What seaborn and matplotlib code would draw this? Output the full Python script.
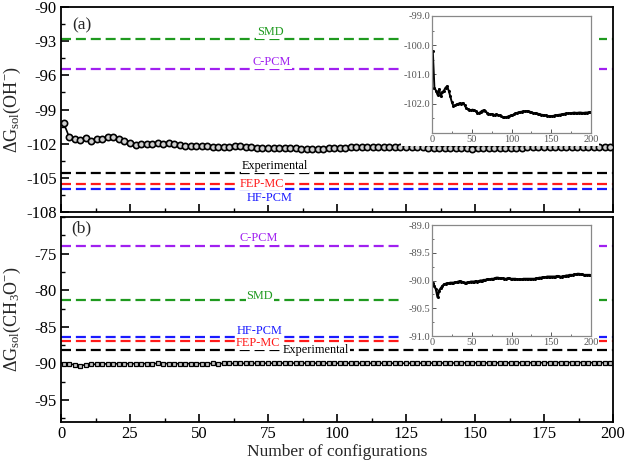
import numpy as np
import pandas as pd
import matplotlib
matplotlib.use('Agg')
import matplotlib.pyplot as plt
from matplotlib.patches import Rectangle
from matplotlib.ticker import MultipleLocator, FormatStrFormatter
import seaborn as sns

# ---- data ----
configs = list(range(1, 200, 2))

dg_oh = [-100.20, -101.45, -101.55, -101.70, -101.50, -101.75, -101.60, -101.55, -101.45, -101.40,
         -101.55, -101.75, -101.95, -102.08, -102.05, -102.02, -102.00, -101.98, -102.00, -101.97,
         -102.05, -102.15, -102.18, -102.20, -102.22, -102.20, -102.22, -102.26, -102.30, -102.32,
         -102.28, -102.24, -102.22, -102.26, -102.30, -102.34, -102.36, -102.35, -102.37, -102.38,
         -102.36, -102.38, -102.40, -102.43, -102.46, -102.47, -102.46, -102.44, -102.42, -102.40,
         -102.39, -102.36, -102.33, -102.31, -102.29, -102.28, -102.27, -102.26, -102.26, -102.25,
         -102.26, -102.27, -102.29, -102.31, -102.32, -102.33, -102.34, -102.35, -102.37, -102.38,
         -102.39, -102.40, -102.41, -102.42, -102.43, -102.42, -102.41, -102.40, -102.39, -102.38,
         -102.37, -102.36, -102.35, -102.34, -102.33, -102.33, -102.32, -102.32, -102.31, -102.30,
         -102.31, -102.31, -102.30, -102.30, -102.31, -102.31, -102.30, -102.30, -102.29, -102.29]

dg_ch3o = [-90.04, -90.10, -90.16, -90.30, -90.18, -90.14, -90.10, -90.07, -90.06, -90.05,
           -90.05, -90.04, -90.04, -90.04, -90.03, -90.03, -90.02, -90.01, -90.02, -90.03,
           -90.04, -90.04, -90.03, -90.03, -90.02, -90.02, -90.02, -90.01, -90.02, -90.01,
           -90.00, -90.00, -89.99, -89.99, -89.98, -89.98, -89.98, -89.97, -89.97, -89.96,
           -89.95, -89.95, -89.96, -89.96, -89.96, -89.97, -89.97, -89.96, -89.96, -89.97,
           -89.97, -89.97, -89.97, -89.98, -89.98, -89.98, -89.98, -89.97, -89.97, -89.97,
           -89.97, -89.97, -89.97, -89.97, -89.97, -89.96, -89.96, -89.95, -89.95, -89.94,
           -89.94, -89.94, -89.93, -89.93, -89.93, -89.93, -89.93, -89.93, -89.92, -89.92,
           -89.93, -89.93, -89.92, -89.92, -89.91, -89.91, -89.90, -89.90, -89.90, -89.89,
           -89.89, -89.88, -89.88, -89.89, -89.89, -89.90, -89.90, -89.90, -89.90, -89.90]

methods = ['SMD', 'C-PCM', 'Experimental', 'FEP-MC', 'HF-PCM']
ref_oh = [-92.8, -95.4, -104.6, -105.5, -106.0]
ref_ch3o = [-81.4, -74.0, -88.2, -87.0, -86.4]
method_colors = ['#1f9a1f', '#a020f0', 'black', '#ff1a1a', '#1a1aff']

df = pd.DataFrame({'config': configs, 'oh': dg_oh, 'ch3o': dg_ch3o})

# ---- style ----
sns.set_theme(style='ticks')
plt.rcParams['font.family'] = ['Liberation Serif', 'DejaVu Serif']
plt.rcParams['mathtext.fontset'] = 'custom'
plt.rcParams['mathtext.rm'] = 'Liberation Serif'
plt.rcParams['mathtext.it'] = 'Liberation Serif:italic'
plt.rcParams['axes.unicode_minus'] = False

fig = plt.figure(figsize=(6.27, 4.61), dpi=100)
ax1 = fig.add_axes([0.0973, 0.5401, 0.8804, 0.4447])
ax2 = fig.add_axes([0.0973, 0.0846, 0.8804, 0.4447])


def style_main(ax):
    ax.set_xlim(0, 200)
    ax.xaxis.set_major_locator(MultipleLocator(25))
    ax.xaxis.set_minor_locator(MultipleLocator(12.5))
    ax.tick_params(which='both', direction='in', top=False, right=False,
                   labelsize=12, colors='black')
    ax.tick_params(which='major', length=6, width=1.2, pad=3)
    ax.tick_params(which='minor', length=3, width=1)
    for s in ax.spines.values():
        s.set_linewidth(1.3)
        s.set_color('black')
        s.set_visible(True)


def add_refs(ax, values, label_pos):
    for name, v, c in zip(methods, values, method_colors):
        ax.axhline(v, color=c, lw=1.6, dashes=(4.5, 2.2), zorder=2)
        x, y = label_pos[name]
        ax.text(x, y, name, color=c, fontsize=8.8, ha='center', va='center', zorder=4,
                bbox=dict(facecolor='white', edgecolor='none', pad=0.5))


# ---- panel (a) ----
sns.lineplot(data=df, x='config', y='oh', ax=ax1, color='black', lw=1.2,
             marker='o', markersize=4.5, markerfacecolor='#d0d0d0',
             markeredgecolor='black', markeredgewidth=1.2, zorder=3)
ax1.set_ylim(-108, -90)
ax1.yaxis.set_major_locator(MultipleLocator(3))
ax1.yaxis.set_minor_locator(MultipleLocator(1.5))
style_main(ax1)
ax1.set_xticklabels([])
ax1.set_xlabel('')
ax1.set_ylabel(r'ΔG$_{\rm sol}$(OH$^{-}$)', fontsize=13)
ax1.yaxis.set_label_coords(-0.068, 0.5)
add_refs(ax1, ref_oh, {'SMD': (75.7, -92.2), 'C-PCM': (76.3, -94.85),
                        'Experimental': (77.5, -103.95), 'FEP-MC': (72.7, -105.5),
                        'HF-PCM': (75.4, -106.75)})
ax1.text(7.5, -91.6, '(a)', fontsize=12.5, ha='center', va='center')
ax1.add_patch(Rectangle((401 / 627, 1 - 146 / 461), 198 / 627, 136 / 461,
                        transform=fig.transFigure, facecolor='white',
                        edgecolor='none', zorder=5))

# ---- panel (b) ----
sns.lineplot(data=df, x='config', y='ch3o', ax=ax2, color='black', lw=1.2,
             marker='s', markersize=3.2, markerfacecolor='#c8c8c8',
             markeredgecolor='black', markeredgewidth=0.9, zorder=3)
ax2.set_ylim(-98, -70)
ax2.set_yticks([-95, -90, -85, -80, -75])
ax2.yaxis.set_minor_locator(MultipleLocator(2.5))
style_main(ax2)
ax2.set_xlabel('Number of configurations', fontsize=12.5, labelpad=1)
ax2.set_ylabel(r'ΔG$_{\rm sol}$(CH$_3$O$^{-}$)', fontsize=13)
ax2.yaxis.set_label_coords(-0.068, 0.5)
add_refs(ax2, ref_ch3o, {'SMD': (72.0, -80.8), 'C-PCM': (71.5, -72.9),
                          'Experimental': (92.4, -88.2), 'FEP-MC': (71.4, -87.25),
                          'HF-PCM': (71.9, -85.6)})
ax2.text(7.5, -71.6, '(b)', fontsize=12.5, ha='center', va='center')
ax2.add_patch(Rectangle((401 / 627, 1 - 348 / 461), 198 / 627, 128 / 461,
                        transform=fig.transFigure, facecolor='white',
                        edgecolor='none', zorder=5))


# ---- insets ----
def style_inset(ax):
    ax.set_xlim(0, 200)
    ax.xaxis.set_major_locator(MultipleLocator(50))
    ax.xaxis.set_minor_locator(MultipleLocator(25))
    ax.yaxis.set_major_formatter(FormatStrFormatter('%.1f'))
    ax.tick_params(which='both', direction='in', top=False, right=False,
                   labelsize=7.5, colors='#555555', pad=1.5)
    ax.tick_params(which='major', length=3, width=0.7)
    ax.tick_params(which='minor', length=1.5, width=0.6)
    for s in ax.spines.values():
        s.set_linewidth(0.9)
        s.set_color('#888888')
    ax.set_xlabel('')
    ax.set_ylabel('')


in1 = fig.add_axes([0.689, 0.7115, 0.2536, 0.2538])
sns.lineplot(data=df, x='config', y='oh', ax=in1, color='black', lw=1.4,
             marker='o', markersize=2.2, markeredgewidth=0)
in1.set_ylim(-103, -99)
in1.set_yticks([-102, -101, -100, -99])
in1.yaxis.set_minor_locator(MultipleLocator(0.5))
style_inset(in1)

in2 = fig.add_axes([0.689, 0.2711, 0.2536, 0.2408])
sns.lineplot(data=df, x='config', y='ch3o', ax=in2, color='black', lw=1.6,
             marker='o', markersize=2.2, markeredgewidth=0)
in2.set_ylim(-91, -89)
in2.yaxis.set_major_locator(MultipleLocator(0.5))
in2.yaxis.set_minor_locator(MultipleLocator(0.25))
style_inset(in2)

fig.savefig('out.png', dpi=100)
